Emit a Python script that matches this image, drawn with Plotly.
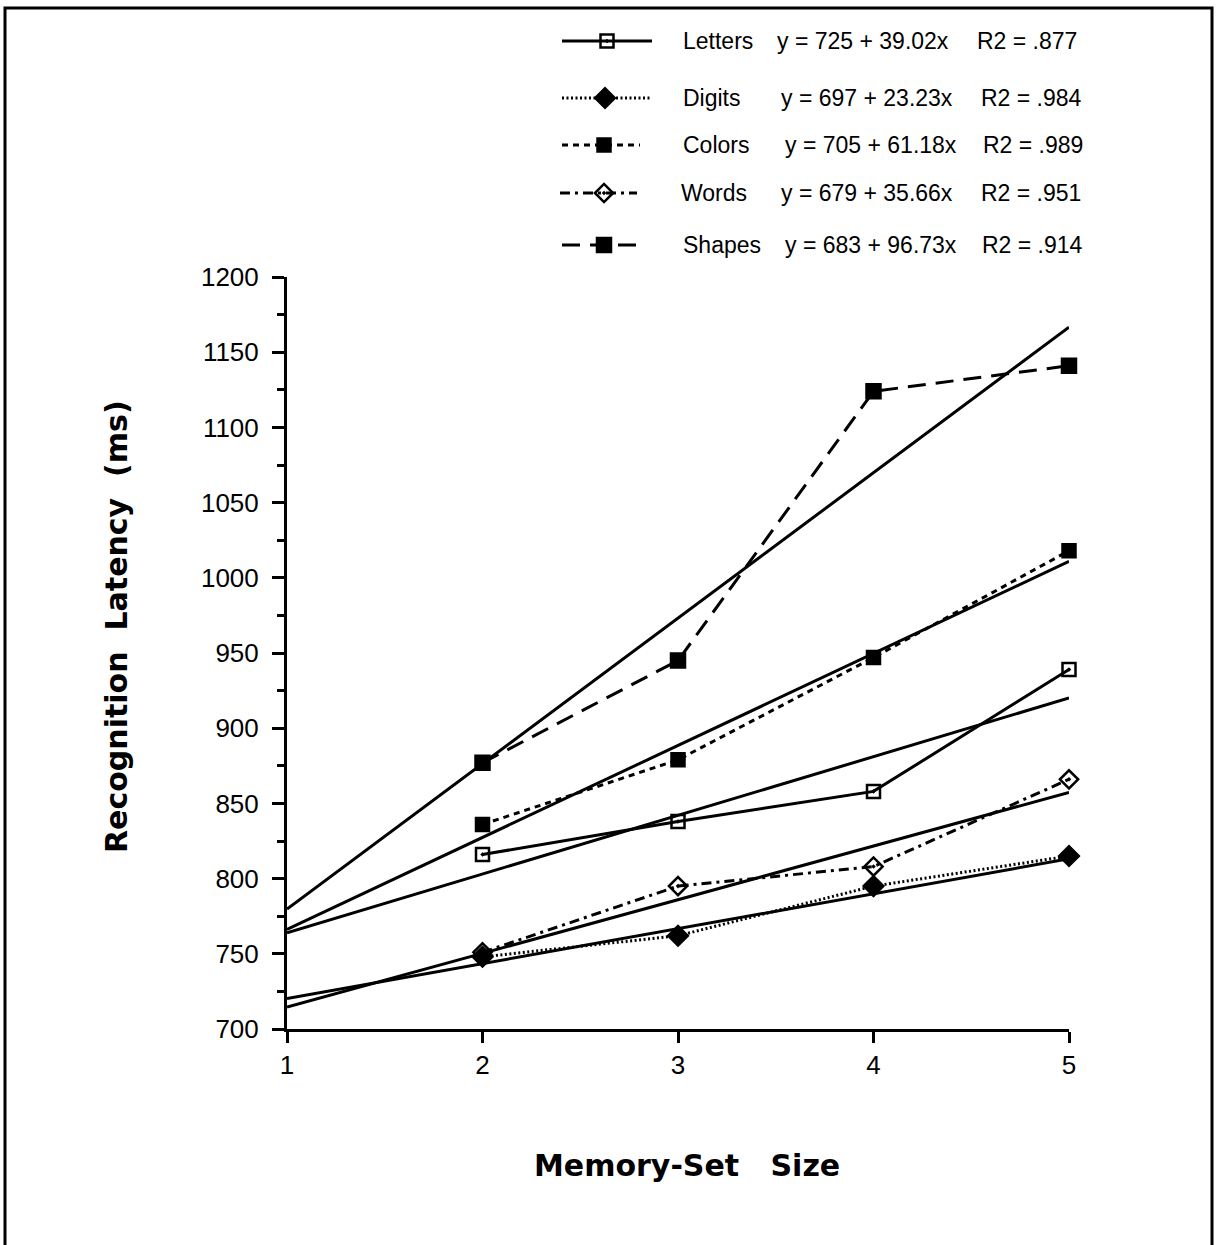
import plotly.graph_objects as go

# Mean recognition latency (ms) by memory-set size, one series per stimulus type
memory_set_size = [2, 3, 4, 5]
letters = [816, 838, 858, 939]
digits = [748, 762, 795, 815]
colors = [836, 879, 947, 1018]
words = [751, 795, 808, 866]
shapes = [877, 945, 1124, 1141]

series_names = ["Letters", "Digits", "Colors", "Words", "Shapes"]
series_values = [letters, digits, colors, words, shapes]

# Linear fits: latency = intercept + slope * size
fit_intercepts = [725, 697, 705, 679, 683]
fit_slopes = [39.02, 23.23, 61.18, 35.66, 96.73]
fit_r2 = [".877", ".984", ".989", ".951", ".914"]

x_ticks = [1, 2, 3, 4, 5]
y_ticks = [700, 750, 800, 850, 900, 950, 1000, 1050, 1100, 1150, 1200]

# Styling per series
dashes = ["solid", "2px,2.5px", "6px,5px", "10px,5px,3px,5px", "18px,10px"]
symbols = ["square-open-dot", "diamond", "square", "diamond-open-dot", "square"]
msizes = [13, 15, 13, 14, 14]

W, H = 1222, 1245
ML, MR, MT, MB = 287, 153, 8, 216
PW = W - ML - MR
PH = H - MT - MB


def px_x(px):
    return (px - ML) / PW


def px_y(py):
    return (H - MB - py) / PH


FONT = "Liberation Sans, Arial, sans-serif"
TITLE_FONT = "DejaVu Sans, sans-serif"

fig = go.Figure()

x_fit = [x_ticks[0], x_ticks[-1]]
for a, b in zip(fit_intercepts, fit_slopes):
    fig.add_trace(go.Scatter(
        x=x_fit, y=[a + b * x for x in x_fit], mode="lines",
        line=dict(color="black", width=3), showlegend=False,
        hoverinfo="skip", cliponaxis=False,
    ))

for name, vals, d, s, ms in zip(series_names, series_values, dashes, symbols, msizes):
    fig.add_trace(go.Scatter(
        x=memory_set_size, y=vals, mode="lines+markers", name=name,
        line=dict(color="black", width=3, dash=d),
        marker=dict(symbol=s, size=ms, color="black",
                    line=dict(color="black", width=2.5)),
        showlegend=False, cliponaxis=False,
    ))

# Key above the plot: sample line + marker, then name, equation and R2
key_rows_y = [41, 98, 145, 193, 245]
key_line_x = [(562, 652), (562, 650), (562, 640), (560, 637), (562, 637)]
key_marker_x = [607, 605, 604, 604, 604]
key_eq_x = [775, 779, 783, 779, 783]
key_r2_x = [975, 979, 981, 979, 980]
key_name_x = [681, 681, 681, 679, 681]

LEG_BOTTOM = 0.745
leg_bottom_px = H - MB - LEG_BOTTOM * PH

for i, name in enumerate(series_names):
    yc = key_rows_y[i]
    x0, x1 = key_line_x[i]
    fig.add_trace(go.Scatter(
        x=[x0, x1], y=[yc, yc], mode="lines", xaxis="x2", yaxis="y2",
        line=dict(color="black", width=3, dash=dashes[i]),
        showlegend=False, hoverinfo="skip", cliponaxis=False,
    ))
    fig.add_trace(go.Scatter(
        x=[key_marker_x[i]], y=[yc], mode="markers", xaxis="x2", yaxis="y2",
        marker=dict(symbol=symbols[i], size=msizes[i], color="black",
                    line=dict(color="black", width=2.5)),
        showlegend=False, hoverinfo="skip", cliponaxis=False,
    ))
    eq = f"y = {fit_intercepts[i]} + {fit_slopes[i]:.2f}x"
    for tx, txt in [(key_name_x[i], name), (key_eq_x[i], eq),
                    (key_r2_x[i], f"R2 = {fit_r2[i]}")]:
        fig.add_annotation(
            x=px_x(tx), y=px_y(yc), xref="paper", yref="paper",
            text=txt, showarrow=False, xanchor="left", yanchor="middle",
            font=dict(family=FONT, size=23, color="black"),
        )

# Axis titles
fig.add_annotation(
    x=px_x(687), y=px_y(1165), xref="paper", yref="paper",
    xanchor="center", yanchor="middle",
    text="Memory-Set\u00a0\u00a0\u00a0Size", showarrow=False,
    font=dict(family=TITLE_FONT, size=30, color="black", weight="bold"),
)
fig.add_annotation(
    x=px_x(117), y=px_y(627), xref="paper", yref="paper", textangle=-90,
    xanchor="center", yanchor="middle",
    text="Recognition\u00a0\u00a0Latency\u00a0\u00a0(ms)", showarrow=False,
    font=dict(family=TITLE_FONT, size=30, color="black", weight="bold"),
)

# Outer frame
fig.add_shape(
    type="rect", xref="paper", yref="paper",
    x0=px_x(5), x1=px_x(1212), y0=px_y(1260), y1=px_y(8),
    line=dict(color="black", width=3),
)

fig.update_layout(
    width=W, height=H,
    margin=dict(l=ML, r=MR, t=MT, b=MB, pad=0, autoexpand=False),
    paper_bgcolor="white", plot_bgcolor="white",
    font=dict(family=FONT, color="black"),
    xaxis=dict(
        range=[1, 5], tickvals=x_ticks, showgrid=False, zeroline=False,
        showline=True, linecolor="black", linewidth=3,
        ticks="outside", ticklen=11, tickwidth=3, tickcolor="black",
        tickfont=dict(size=26), ticklabelstandoff=0,
        domain=[0, 1], anchor="y", automargin=False,
    ),
    yaxis=dict(
        range=[700, 1200], tickvals=y_ticks, showgrid=False, zeroline=False,
        showline=True, linecolor="black", linewidth=3,
        ticks="outside", ticklen=12, tickwidth=3, tickcolor="black",
        tickfont=dict(size=26), ticklabelstandoff=8,
        minor=dict(dtick=25, tick0=700, ticks="outside", ticklen=7,
                   tickwidth=2.5, tickcolor="black"),
        domain=[0, 0.7365], anchor="x", automargin=False,
    ),
    xaxis2=dict(range=[ML, ML + PW], domain=[0, 1], anchor="y2",
                visible=False, fixedrange=True, automargin=False),
    yaxis2=dict(range=[leg_bottom_px, MT], domain=[LEG_BOTTOM, 1], anchor="x2",
                visible=False, fixedrange=True, automargin=False),
    showlegend=False,
)

fig.write_html("out.html")
